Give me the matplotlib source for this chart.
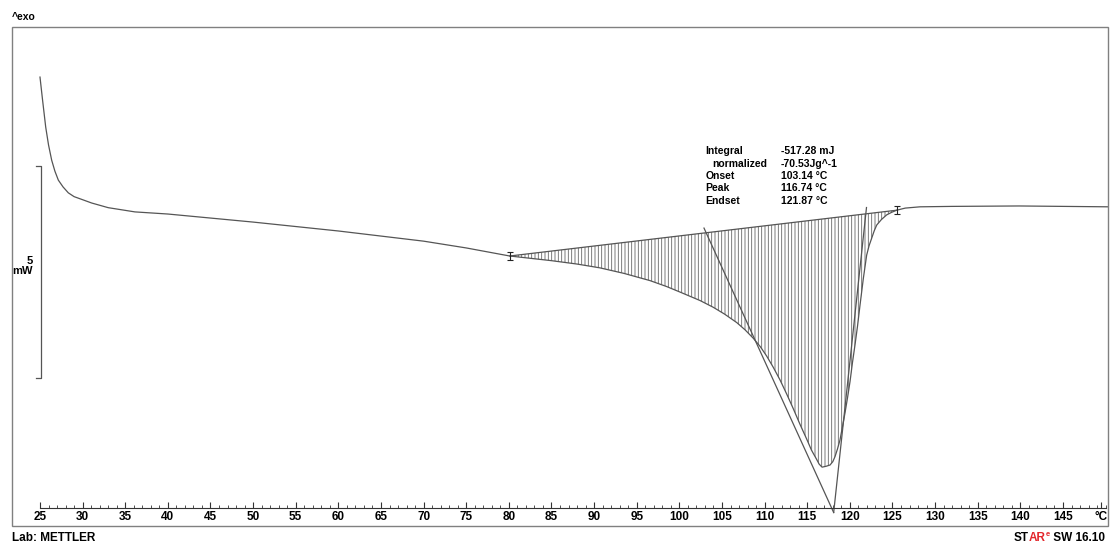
import numpy as np
import matplotlib.pyplot as plt
from matplotlib.patches import Rectangle

plt.rcParams['font.family'] = ['Liberation Sans', 'DejaVu Sans']

# DSC heating run: sample temperature (degC) and heat flow (mW, exo up)
temp = np.array([25.00, 25.30, 25.67, 26.00, 26.37, 26.75, 27.15, 27.70, 28.32, 29.00,
                 29.69, 31.06, 33.00, 36.14, 40.0, 50.0, 60.0, 70.0, 75.0, 80.1,
                 85.0, 88.0, 90.69, 93.50, 96.55, 98.50, 100.07, 102.42, 103.98, 105.30,
                 106.73, 107.70, 108.67, 109.50, 110.24, 111.00, 111.80, 112.60, 113.36, 114.15,
                 114.94, 115.50, 116.11, 116.40, 116.74, 117.20, 117.67, 118.00, 118.26, 118.55,
                 118.84, 119.13, 119.43, 119.72, 120.02, 120.30, 120.60, 120.90, 121.19, 121.58,
                 121.97, 122.25, 122.56, 122.85, 123.15, 123.70, 124.32, 124.90, 125.49, 126.50,
                 128.23, 132.0, 139.84, 150.28])
heat_flow = np.array([4.22, 3.68, 3.04, 2.62, 2.26, 2.00, 1.79, 1.63, 1.49, 1.40,
                      1.35, 1.25, 1.14, 1.04, 0.99, 0.80, 0.59, 0.35, 0.19, 0.00,
                      -0.11, -0.19, -0.28, -0.41, -0.58, -0.72, -0.85, -1.05, -1.21, -1.37,
                      -1.57, -1.74, -1.94, -2.14, -2.36, -2.62, -2.92, -3.26, -3.60, -3.97,
                      -4.32, -4.58, -4.80, -4.91, -4.98, -4.96, -4.93, -4.85, -4.73, -4.55,
                      -4.34, -4.03, -3.70, -3.35, -2.96, -2.52, -2.10, -1.65, -1.16, -0.53,
                      0.02, 0.24, 0.42, 0.59, 0.73, 0.86, 0.97, 1.03, 1.08, 1.13,
                      1.16, 1.17, 1.18, 1.16])

# peak evaluation
int_start, int_end = 80.1, 125.49
integral_mj = -517.28
normalized = -70.53
onset = 103.14
peak = 116.74
endset = 121.87
tangent_cross = (118.1, -6.05)

major_ticks = list(range(25, 150, 5))
scale_mw = 5

W, H = 1118, 545
line_col = '#555555'


def px(x, y):
    return x / W, 1 - y / H


fig = plt.figure(figsize=(W / 100, H / 100), dpi=100)
ax = fig.add_axes([12 / W, 19 / H, 1096 / W, 499 / H])
ax.set_xlim(21.716, 150.28)
ax.set_ylim(-6.368, 5.401)
ax.patch.set_visible(False)
for s in ['top', 'left', 'right']:
    ax.spines[s].set_visible(False)
ax.yaxis.set_visible(False)
ax.spines['bottom'].set_position(('data', -5.943))
ax.spines['bottom'].set_bounds(25, 150)
ax.spines['bottom'].set_color('#333333')
ax.spines['bottom'].set_linewidth(0.8)

ax.set_xticks(major_ticks + [149.5])
ax.set_xticklabels([str(t) for t in major_ticks] + ['°C'])
ax.set_xticks(np.arange(25, 151, 1), minor=True)
ax.tick_params(axis='x', which='major', direction='in', length=4, width=0.8,
               pad=2.5, labelsize=8.5, color='#333333')
ax.tick_params(axis='x', which='minor', direction='in', length=2.5, width=0.6,
               color='#333333')
for lab in ax.get_xticklabels():
    lab.set_fontweight('bold')

# integration area between curve and baseline
sel = (temp >= int_start) & (temp <= int_end)
b0 = heat_flow[temp == int_start][0]
b1 = heat_flow[temp == int_end][0]
bslope = (b1 - b0) / (int_end - int_start)
base_sel = b0 + (temp[sel] - int_start) * bslope
plt.rcParams['hatch.linewidth'] = 0.6
ax.fill_between(temp[sel], heat_flow[sel], base_sel, facecolor='none',
                edgecolor='#666666', hatch='|||||', linewidth=0)

ax.plot(temp, heat_flow, color=line_col, lw=0.9)
ax.plot([int_start, int_end], [b0, b1], color=line_col, lw=0.9)
ax.errorbar([int_start, int_end], [b0, b1], yerr=0.1, fmt='none',
            ecolor='#222222', elinewidth=0.8, capsize=2, capthick=0.8)

# onset / endset tangents meeting below the peak
for t_ev, ext in [(onset, -0.25), (endset, 0.08)]:
    y_ev = b0 + (t_ev - int_start) * bslope
    k = (tangent_cross[1] - y_ev) / (tangent_cross[0] - t_ev)
    t0 = t_ev + ext
    ax.plot([t0, tangent_cross[0]], [y_ev + k * ext, tangent_cross[1]],
            color=line_col, lw=0.9)

# 5 mW scale bar
ax.plot([24.55, 25.12, 25.12, 24.55], [2.12, 2.12, 2.12 - scale_mw, 2.12 - scale_mw],
        color=line_col, lw=0.9)
ax.text(24.2, -0.24, f'{scale_mw}\nmW', ha='right', va='center', fontsize=8,
        fontweight='bold', linespacing=1.0, multialignment='right')

# results table
rows = [('Integral', f'{integral_mj:.2f} mJ', 705.7),
        ('normalized', f'{normalized:.2f}Jg^-1', 712.0),
        ('Onset', f'{onset:.2f} °C', 705.7),
        ('Peak', f'{peak:.2f} °C', 705.7),
        ('Endset', f'{endset:.2f} °C', 705.7)]
for i, (name, val, x0) in enumerate(rows):
    y = 151.5 + 12.3 * i
    fig.text(*px(x0, y), name, fontsize=7.5, fontweight='bold', va='center')
    fig.text(*px(780.7, y), val, fontsize=7.5, fontweight='bold', va='center')

fig.patches.append(Rectangle(px(12, 526), 1096 / W, 499 / H, transform=fig.transFigure,
                             fill=False, ec='#808080', lw=1))
fig.text(*px(12, 17), '^exo', fontsize=7.5, fontweight='bold', va='center')
fig.text(*px(12, 538), 'Lab: METTLER', fontsize=8.5, fontweight='bold', va='center')

renderer = fig.canvas.get_renderer()
x = 1014
red = '#e3262b'
for txt, col, size, dy in [('ST', 'black', 8.5, 0), ('AR', red, 8.5, 0),
                           ('e', red, 5.5, -4), (' SW 16.10', 'black', 8.5, 0)]:
    t = fig.text(*px(x, 538 + dy), txt, color=col, fontsize=size,
                 fontweight='bold', va='center')
    x += t.get_window_extent(renderer).width

fig.savefig('out.png', dpi=100)
